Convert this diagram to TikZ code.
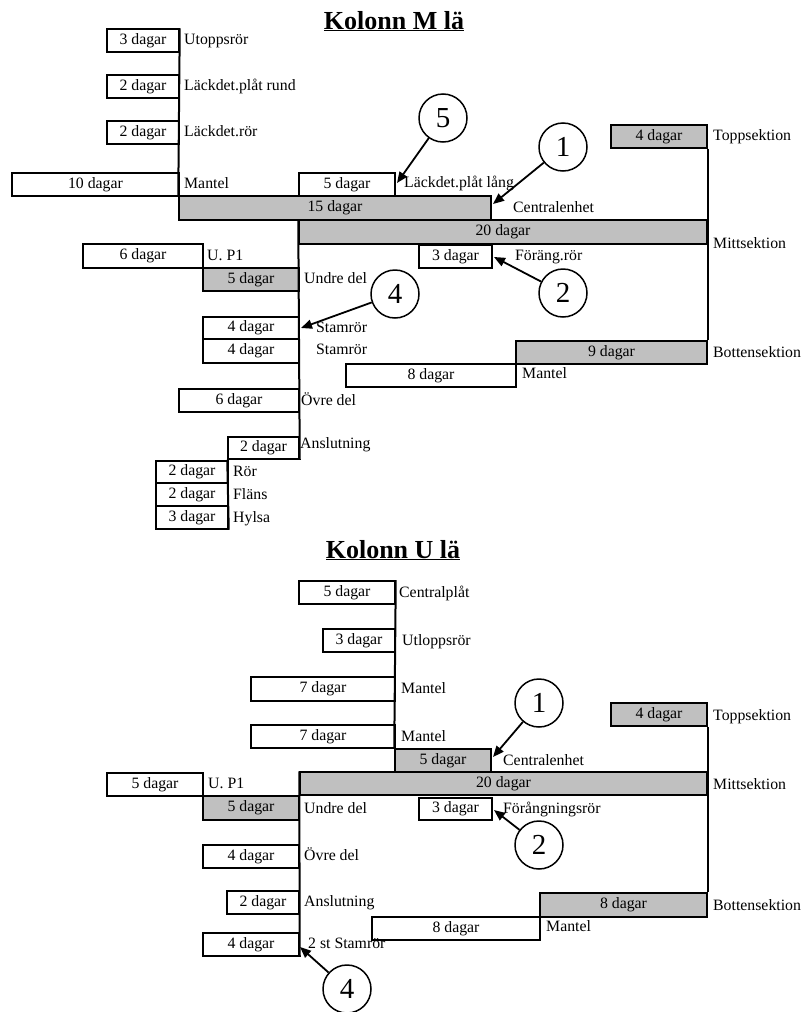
\documentclass[tikz,border=0pt]{standalone}
\usepackage{fontspec}
\setmainfont{Liberation Serif}
\usetikzlibrary{fit,arrows.meta}
\definecolor{barfill}{RGB}{192,192,192}
% bar from corner (x1,y1) to corner (x2,y2): name, x1, y1, x2, y2, style, text
\newcommand\gantbox[7]{\node[#6, fit={(#2,#3) (#4,#5)}, label={[inner sep=0pt]center:#7}] (#1) {};}
\begin{document}
\begin{tikzpicture}[x=1pt,y=-1pt,
  every node/.style={font=\fontsize{15.8}{18}\selectfont},
  task/.style={draw, line width=1.5pt, inner sep=0pt},
  plainbar/.style={task, fill=white},
  greybar/.style={task, fill=barfill},
  lbl/.style={anchor=base west, inner sep=0pt},
  link/.style={line width=2pt},
  callout/.style={draw, circle, line width=1.5pt, minimum size=48pt, inner sep=0pt,
    font=\fontsize{29}{30}\selectfont},
  pointer/.style={line width=1.8pt, -{Triangle[length=11pt,width=9pt]}},
  heading/.style={anchor=base, inner sep=0pt, font=\fontsize{26}{28}\selectfont\bfseries}
]
\useasboundingbox (0,0) rectangle (804,1012);

% ---------------- Kolonn M lä ----------------
\node[heading] (titleM) at (394,29) {\underline{Kolonn M lä}};

\gantbox{m1}{107}{29}{179}{52}{plainbar}{3 dagar}
\gantbox{m2}{107}{75}{179}{98}{plainbar}{2 dagar}
\gantbox{m3}{107}{121}{179}{144}{plainbar}{2 dagar}
\gantbox{m4}{12}{173}{179}{196}{plainbar}{10 dagar}
\gantbox{m5}{299}{173}{395}{196}{plainbar}{5 dagar}
\gantbox{m6}{179}{196}{491}{220}{greybar}{15 dagar}
\gantbox{m7}{299}{220}{707}{244}{greybar}{20 dagar}
\gantbox{m8}{611}{125}{707}{148}{greybar}{4 dagar}
\gantbox{m9}{83}{244}{203}{268}{plainbar}{6 dagar}
\gantbox{m10}{203}{268}{299}{291}{greybar}{5 dagar}
\gantbox{m11}{419}{245}{492}{268}{plainbar}{3 dagar}
\gantbox{m12}{203}{317}{299}{339}{plainbar}{4 dagar}
\gantbox{m13}{203}{339}{299}{363}{plainbar}{4 dagar}
\gantbox{m14}{516}{341}{707}{364}{greybar}{9 dagar}
\gantbox{m15}{346}{364}{516}{387}{plainbar}{8 dagar}
\gantbox{m16}{179}{389}{299}{412}{plainbar}{6 dagar}
\gantbox{m17}{228}{437}{299}{459}{plainbar}{2 dagar}
\gantbox{m18}{156}{461}{228}{483}{plainbar}{2 dagar}
\gantbox{m19}{156}{483}{228}{506}{plainbar}{2 dagar}
\gantbox{m20}{156}{506}{228}{529}{plainbar}{3 dagar}

\node[lbl] (lm1) at (184,44) {Utoppsrör};
\node[lbl] (lm2) at (184,90) {Läckdet.plåt rund};
\node[lbl] (lm3) at (184,136) {Läckdet.rör};
\node[lbl] (lm4) at (184,188) {Mantel};
\node[lbl] (lm5) at (404,187) {Läckdet.plåt lång};
\node[lbl] (lm6) at (513,212) {Centralenhet};
\node[lbl] (lm7) at (713,248) {Mittsektion};
\node[lbl] (lm8) at (713,140) {Toppsektion};
\node[lbl] (lm9) at (207,260) {U. P1};
\node[lbl] (lm10) at (304,283) {Undre del};
\node[lbl] (lm11) at (515,260) {Föräng.rör};
\node[lbl] (lm12) at (316,332) {Stamrör};
\node[lbl] (lm13) at (316,354) {Stamrör};
\node[lbl] (lm14) at (713,357) {Bottensektion};
\node[lbl] (lm15) at (522,378) {Mantel};
\node[lbl] (lm16) at (301,405) {Övre del};
\node[lbl] (lm17) at (300,448) {Anslutning};
\node[lbl] (lm18) at (233,476) {Rör};
\node[lbl] (lm19) at (233,499) {Fläns};
\node[lbl] (lm20) at (233,522) {Hylsa};

% spines joining the bars
\draw[link] (m1.north east) -- (m6.north west);
\draw[link] (m7.north west) -- (m17.south east);
\draw[link] (m8.south east) -- (m14.north east);
\draw[link] (m17.south west) -- (m20.south east);

% numbered call-outs
\node[callout] (cm5) at (443,118) {5};
\node[callout] (cm1) at (563,147) {1};
\node[callout] (cm2) at (563,293) {2};
\node[callout] (cm4) at (395,294) {4};
\coordinate (tm5) at (397,183);
\coordinate (tm1) at (493,204);
\coordinate (tm2) at (494,257);
\coordinate (tm4) at (301,328);
\draw[pointer] (cm5) -- (tm5);
\draw[pointer] (cm1) -- (tm1);
\draw[pointer] (cm2) -- (tm2);
\draw[pointer] (cm4) -- (tm4);

% ---------------- Kolonn U lä ----------------
\node[heading] (titleU) at (393,558) {\underline{Kolonn U lä}};

\gantbox{u1}{299}{581}{395}{604}{plainbar}{5 dagar}
\gantbox{u2}{323}{629}{395}{652}{plainbar}{3 dagar}
\gantbox{u3}{251}{677}{395}{701}{plainbar}{7 dagar}
\gantbox{u4}{251}{725}{395}{748}{plainbar}{7 dagar}
\gantbox{u5}{395}{749}{491}{772}{greybar}{5 dagar}
\gantbox{u6}{300}{772}{707}{795}{greybar}{20 dagar}
\gantbox{u7}{611}{703}{707}{726}{greybar}{4 dagar}
\gantbox{u8}{107}{773}{203}{796}{plainbar}{5 dagar}
\gantbox{u9}{203}{796}{299}{820}{greybar}{5 dagar}
\gantbox{u10}{419}{798}{492}{820}{plainbar}{3 dagar}
\gantbox{u11}{203}{845}{299}{868}{plainbar}{4 dagar}
\gantbox{u12}{227}{891}{299}{914}{plainbar}{2 dagar}
\gantbox{u13}{540}{893}{707}{917}{greybar}{8 dagar}
\gantbox{u14}{372}{917}{540}{940}{plainbar}{8 dagar}
\gantbox{u15}{203}{933}{299}{956}{plainbar}{4 dagar}

\node[lbl] (lu1) at (399,597) {Centralplåt};
\node[lbl] (lu2) at (402,645) {Utloppsrör};
\node[lbl] (lu3) at (401,693) {Mantel};
\node[lbl] (lu4) at (401,741) {Mantel};
\node[lbl] (lu5) at (503,765) {Centralenhet};
\node[lbl] (lu6) at (713,789) {Mittsektion};
\node[lbl] (lu7) at (713,720) {Toppsektion};
\node[lbl] (lu8) at (208,788) {U. P1};
\node[lbl] (lu9) at (304,813) {Undre del};
\node[lbl] (lu10) at (503,813) {Förångningsrör};
\node[lbl] (lu11) at (304,860) {Övre del};
\node[lbl] (lu12) at (304,906) {Anslutning};
\node[lbl] (lu13) at (713,910) {Bottensektion};
\node[lbl] (lu14) at (546,931) {Mantel};
\node[lbl] (lu15) at (308,948) {2 st Stamrör};

\draw[link] (u1.north east) -- (u5.north west);
\draw[link] (u6.north west) -- (u15.south east);
\draw[link] (u7.south east) -- (u13.north east);

\node[callout] (cu1) at (539,703) {1};
\node[callout] (cu2) at (539,845) {2};
\node[callout] (cu4) at (347,989) {4};
\coordinate (tu1) at (493,757);
\coordinate (tu2) at (494,810);
\coordinate (tu4) at (300,947);
\draw[pointer] (cu1) -- (tu1);
\draw[pointer] (cu2) -- (tu2);
\draw[pointer] (cu4) -- (tu4);
\end{tikzpicture}
\end{document}
